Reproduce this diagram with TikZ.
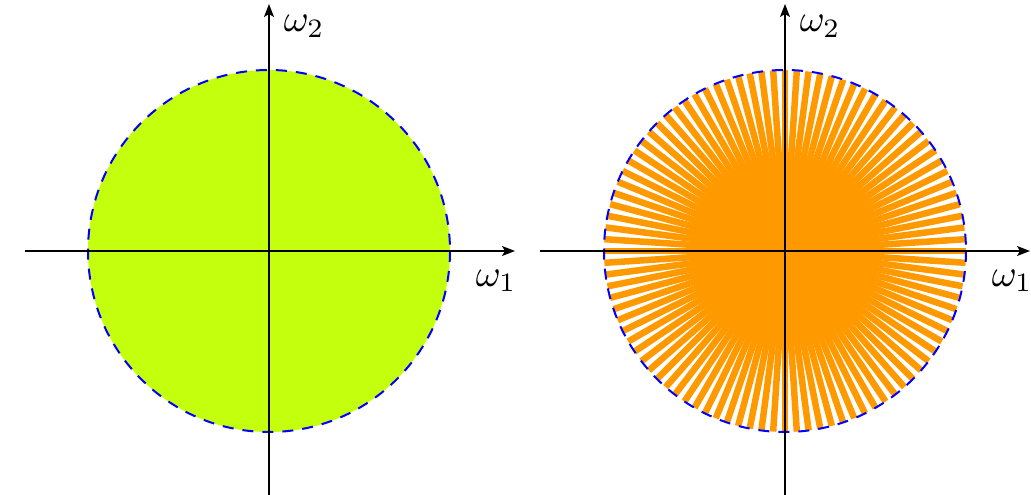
\documentclass[tikz,border=0pt]{standalone}
\usetikzlibrary{arrows.meta}
\definecolor{lime}{RGB}{196,255,14}
\definecolor{ray}{RGB}{255,153,0}
\tikzset{
  axis/.style={line width=1.3pt,-{Stealth[length=13pt,width=10pt,inset=3pt]}},
  rim/.style={blue,line width=2pt,dash pattern=on 11pt off 9pt},
  rayline/.style={ray,line width=6.5pt},
  lab/.style={inner sep=0pt,anchor=base west,scale=3.8}
}
\begin{document}
\begin{tikzpicture}[x=1pt,y=-1pt]
\useasboundingbox (0,0) rectangle (1031,495);
% left panel
\coordinate (cA) at (269,251);
\coordinate (hA0) at (25,251);
\coordinate (hA1) at (515,251);
\coordinate (vA0) at (269,495);
\coordinate (vA1) at (269,4);
\fill[lime] (cA) circle[radius=181];
\draw[rim] (cA) circle[radius=181];
\draw[axis] (hA0) -- (hA1);
\draw[axis] (vA0) -- (vA1);
\node[lab] (w2A) at (283,32) {$\omega_2$};
\node[lab] (w1A) at (475,286) {$\omega_1$};
% right panel
\coordinate (cB) at (785,251);
\coordinate (hB0) at (540,251);
\coordinate (hB1) at (1030,251);
\coordinate (vB0) at (785,495);
\coordinate (vB1) at (785,4);
\foreach \i in {0,...,95}{
  \draw[rayline] (cB) -- ++(\i*3.75:181);
}
\draw[rim] (cB) circle[radius=181];
\draw[axis] (hB0) -- (hB1);
\draw[axis] (vB0) -- (vB1);
\node[lab] (w2B) at (799,32) {$\omega_2$};
\node[lab] (w1B) at (991,286) {$\omega_1$};
\end{tikzpicture}
\end{document}
